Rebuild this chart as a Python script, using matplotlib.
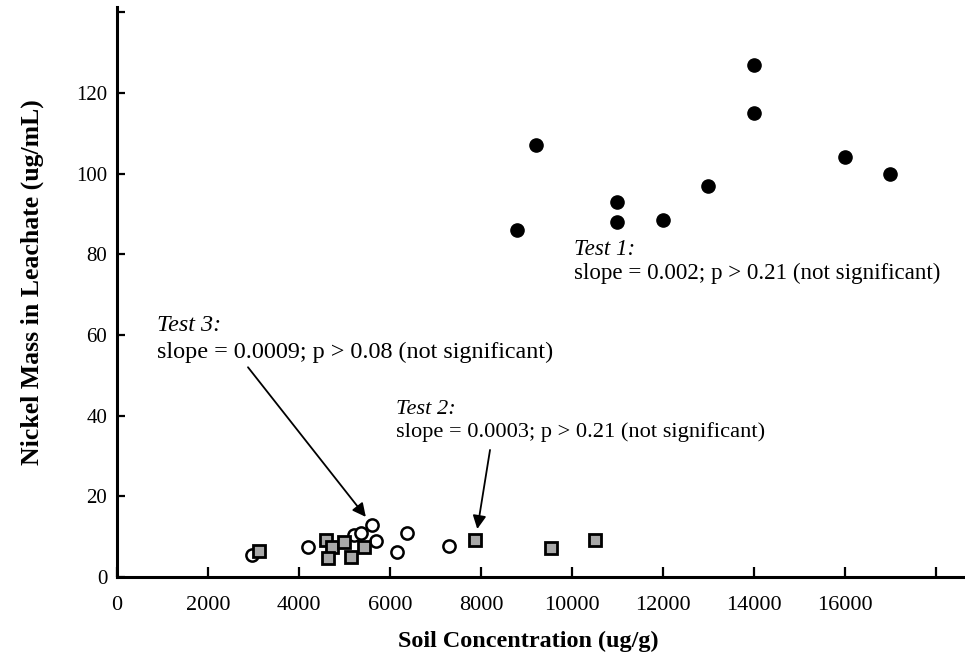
#!/usr/bin/env python3
"""
Nickel mass in leachate vs soil concentration (three leaching tests)
"""

import matplotlib
matplotlib.use("Agg")
import matplotlib.pyplot as plt
import numpy as np

# Test 1 - filled circles
test1_x = [8800, 9200, 11000, 11000, 12000, 13000, 14000, 14000, 16000, 17000]
test1_y = [86.0, 107.0, 93.0, 88.0, 88.5, 97.0, 127.0, 115.0, 104.0, 100.0]

# Test 2 - grey squares
test2_x = [3130, 4590, 4730, 4630, 4980, 5140, 5420, 7860, 9550, 10500]
test2_y = [6.5, 9.3, 7.5, 4.8, 8.6, 5.0, 7.5, 9.2, 7.1, 9.2]

# Test 3 - open circles
test3_x = [2970, 4200, 5210, 5360, 5600, 5690, 6160, 6380, 7290]
test3_y = [5.5, 7.4, 10.3, 10.8, 12.9, 8.9, 6.3, 11.0, 7.8]

x_ticks = np.arange(0, 20000, 2000)
x_labels = ['0', '2000', '4000', '6000', '8000', '10000', '12000', '14000', '16000', '']
y_ticks = np.arange(0, 160, 20)
y_labels = ['0', '20', '40', '60', '80', '100', '120', '']

plt.rcParams['font.family'] = ['Liberation Serif', 'DejaVu Serif']

fig = plt.figure(figsize=(9.65, 6.67), dpi=100)
ax = fig.add_axes([0.1212, 0.1349, 0.8788, 0.8546])

ax.plot(test3_x, test3_y, 'o', markersize=8.8, markerfacecolor='white',
        markeredgecolor='black', markeredgewidth=1.8, zorder=3)
ax.plot(test2_x, test2_y, 's', markersize=8.5, markerfacecolor='#a8a8a8',
        markeredgecolor='black', markeredgewidth=2.0, zorder=4)
ax.plot(test1_x, test1_y, 'o', markersize=9.5, markerfacecolor='black',
        markeredgecolor='black', zorder=3)

ax.set_xlim(0, 18640)
ax.set_ylim(0, 141.3)

# axes: left and bottom only, inward ticks
for side in ['top', 'right']:
    ax.spines[side].set_visible(False)
for side in ['left', 'bottom']:
    ax.spines[side].set_linewidth(2.2)

ax.set_xticks(x_ticks)
ax.set_xticklabels(x_labels)
ax.set_yticks(y_ticks)
ax.set_yticklabels(y_labels)
ax.tick_params(axis='x', direction='in', length=7.5, width=1.6, pad=14, labelsize=16)
ax.tick_params(axis='y', direction='in', length=6, width=1.6, pad=7, labelsize=15)

ax.set_xlabel('Soil Concentration (ug/g)', fontsize=17.4, fontweight='bold')
ax.xaxis.set_label_coords(0.485, -0.094)
ax.set_ylabel('Nickel Mass in Leachate (ug/mL)', fontsize=18.5, fontweight='bold')
ax.yaxis.set_label_coords(-0.086, 0.5175)

# annotations
ax.text(10044, 79.8, 'Test 1:', fontsize=16.6, style='italic', va='baseline')
ax.text(10044, 73.9, 'slope = 0.002; p > 0.21 (not significant)', fontsize=16.6, va='baseline')

ax.text(880, 61.0, 'Test 3:', fontsize=17.4, style='italic', va='baseline')
ax.text(880, 54.3, 'slope = 0.0009; p > 0.08 (not significant)', fontsize=17.4, va='baseline')

ax.text(6130, 40.4, 'Test 2:', fontsize=16.1, style='italic', va='baseline')
ax.text(6130, 34.6, 'slope = 0.0003; p > 0.21 (not significant)', fontsize=16.1, va='baseline')

arrow = dict(arrowstyle='-|>', lw=1.3, color='black', mutation_scale=20,
             shrinkA=0, shrinkB=0)
ax.annotate('', xy=(5470, 14.9), xytext=(2880, 52.0), arrowprops=arrow)
ax.annotate('', xy=(7920, 11.9), xytext=(8200, 31.5), arrowprops=arrow)

plt.savefig('out.png', dpi=100)
plt.close()
